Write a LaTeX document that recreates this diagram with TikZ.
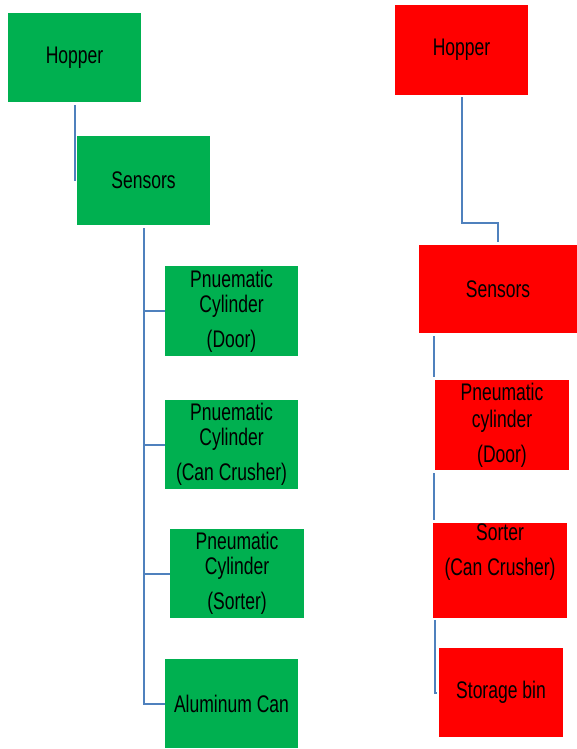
\documentclass[tikz,border=0pt]{standalone}
\usepackage{fontspec}
\setmainfont[FakeStretch=0.73]{Liberation Sans}
\usetikzlibrary{calc}
\definecolor{boxgreen}{HTML}{00B050}
\definecolor{boxred}{HTML}{FF0000}
\definecolor{linkblue}{HTML}{4F81BD}

\begin{document}
\begin{tikzpicture}[x=1pt, y=-1pt,
  gbox/.style={fill=boxgreen, minimum width=133pt, minimum height=89pt, inner sep=0pt, align=center, font=\fontsize{24}{25}\selectfont},
  rbox/.style={gbox, fill=boxred},
  link/.style={draw=linkblue, line width=2pt}]
  \useasboundingbox (0,0) rectangle (577,749);
  \node[gbox] (ghop) at (74.5,57.5) {Hopper};
  \node[gbox] (gsens) at (143.5,180.5) {Sensors};
  \node[gbox, minimum height=90pt] (gdoor) at (231.5,311) {Pnuematic\\Cylinder\\[10pt](Door)};
  \node[gbox] (gcrush) at (231.5,444.5) {Pnuematic\\Cylinder\\[10pt](Can Crusher)};
  \node[gbox, minimum width=134pt] (gsort) at (237,573.5) {Pneumatic\\Cylinder\\[10pt](Sorter)};
  \node[gbox] (gcan) at (231.5,703.5) {Aluminum Can};
  \draw[link] ($(ghop.south)+(0,3)$) -- (ghop.south |- gsens.west);
  \draw[link] ($(gsens.south)+(0,3)$) -- (gsens.south |- gcan.west) -- (gcan.west);
  \foreach \n in {gdoor, gcrush, gsort}
    \draw[link] (gsens.south |- \n.west) -- (\n.west);
  \node[rbox, minimum height=90pt] (rhop) at (461.5,50) {Hopper};
  \node[rbox, minimum width=158pt, minimum height=88pt] (rsens) at (498,289) {Sensors};
  \node[rbox, minimum width=134pt, minimum height=90pt] (rdoor) at (502,425) {Pneumatic\\[2pt]cylinder\\[10pt](Door)};
  \node[rbox, minimum width=134pt] (rsort) at (500,570.5) {Sorter\\[10pt](Can Crusher)\\[10pt]\strut};
  \node[rbox, minimum width=124pt] (rbin) at (501,692.5) {Storage bin};
  \draw[link] ($(rhop.south)+(0,2)$) |- ($(rsens.north)+(0,-22)$) -- ($(rsens.north)+(0,-3)$);
  \draw[link] ($(rdoor.north west |- rsens.south)+(-1,3)$) -- ($(rdoor.north west)+(-1,-3)$);
  \draw[link] ($(rdoor.south west)+(-1,3)$) -- ($(rdoor.south west |- rsort.north)+(-1,-3)$);
  \draw[link] ($(rsort.south west)+(2,2)$) |- ($(rbin.west)+(-2,0)$);
\end{tikzpicture}
\end{document}
